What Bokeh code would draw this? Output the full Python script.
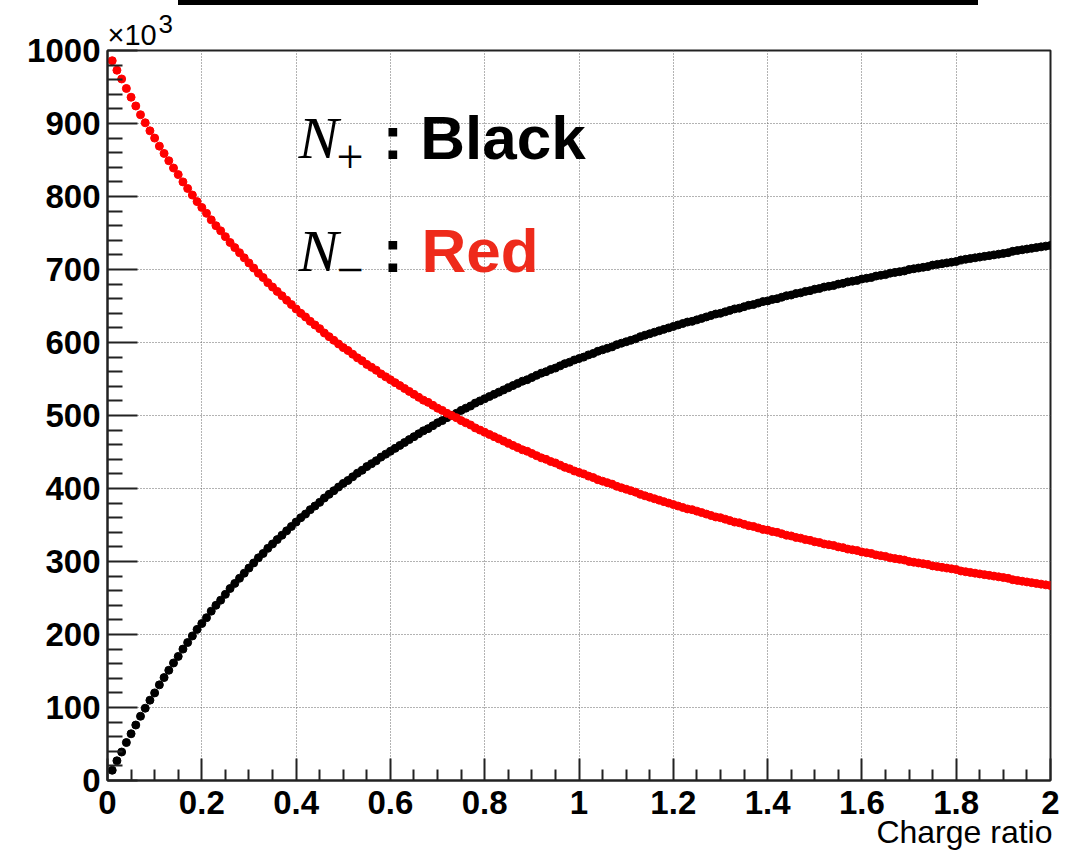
from bokeh.plotting import figure
from bokeh.layouts import column
from bokeh.models import ColumnDataSource, FixedTicker, Label, Title, Div
from bokeh.embed import file_html
from bokeh.resources import INLINE

# Charge ratio scanned in steps of 0.01 from 0.01 to 2.00
ratio = [round(0.01 * (i + 1), 2) for i in range(200)]

# N+ counts (units of 10^3)
n_plus = [
    14, 27, 39, 52, 64, 76, 88, 99, 110, 120,
    131, 141, 151, 161, 170, 180, 189, 198, 207, 215,
    223, 232, 240, 247, 255, 263, 270, 277, 284, 291,
    298, 305, 311, 318, 324, 330, 336, 342, 348, 354,
    360, 365, 371, 376, 381, 387, 392, 397, 402, 407,
    411, 416, 421, 425, 430, 434, 438, 443, 447, 451,
    455, 459, 463, 467, 471, 475, 479, 482, 486, 490,
    493, 497, 500, 503, 507, 510, 513, 517, 520, 523,
    526, 529, 532, 535, 538, 541, 544, 547, 549, 552,
    555, 558, 560, 563, 565, 568, 571, 573, 576, 578,
    580, 583, 585, 588, 590, 592, 594, 597, 599, 601,
    603, 605, 608, 610, 612, 614, 616, 618, 620, 622,
    624, 626, 628, 629, 631, 633, 635, 637, 639, 640,
    642, 644, 646, 647, 649, 651, 652, 654, 656, 657,
    659, 660, 662, 664, 665, 667, 668, 670, 671, 673,
    674, 676, 677, 678, 680, 681, 683, 684, 685, 687,
    688, 689, 691, 692, 693, 695, 696, 697, 698, 700,
    701, 702, 703, 704, 706, 707, 708, 709, 710, 711,
    713, 714, 715, 716, 717, 718, 719, 720, 721, 722,
    723, 725, 726, 727, 728, 729, 730, 731, 732, 733,
]

# N- counts (units of 10^3)
n_minus = [
    986, 973, 961, 948, 936, 924, 912, 901, 890, 880,
    869, 859, 849, 839, 830, 820, 811, 802, 793, 785,
    777, 768, 760, 753, 745, 737, 730, 723, 716, 709,
    702, 695, 689, 682, 676, 670, 664, 658, 652, 646,
    640, 635, 629, 624, 619, 613, 608, 603, 598, 593,
    589, 584, 579, 575, 570, 566, 562, 557, 553, 549,
    545, 541, 537, 533, 529, 525, 521, 518, 514, 510,
    507, 503, 500, 497, 493, 490, 487, 483, 480, 477,
    474, 471, 468, 465, 462, 459, 456, 453, 451, 448,
    445, 442, 440, 437, 435, 432, 429, 427, 424, 422,
    420, 417, 415, 412, 410, 408, 406, 403, 401, 399,
    397, 395, 392, 390, 388, 386, 384, 382, 380, 378,
    376, 374, 372, 371, 369, 367, 365, 363, 361, 360,
    358, 356, 354, 353, 351, 349, 348, 346, 344, 343,
    341, 340, 338, 336, 335, 333, 332, 330, 329, 327,
    326, 324, 323, 322, 320, 319, 317, 316, 315, 313,
    312, 311, 309, 308, 307, 305, 304, 303, 302, 300,
    299, 298, 297, 296, 294, 293, 292, 291, 290, 289,
    287, 286, 285, 284, 283, 282, 281, 280, 279, 278,
    277, 275, 274, 273, 272, 271, 270, 269, 268, 267,
]

x_ticks = [0.0, 0.2, 0.4, 0.6, 0.8, 1.0, 1.2, 1.4, 1.6, 1.8, 2.0]
x_tick_labels = ["0", "0.2", "0.4", "0.6", "0.8", "1", "1.2", "1.4", "1.6", "1.8", "2"]
y_ticks = [0, 100, 200, 300, 400, 500, 600, 700, 800, 900, 1000]

x_minor = [round(0.05 * i, 2) for i in range(41) if i % 4 != 0]
y_minor = [20 * i for i in range(51) if i % 5 != 0]

SANS = "Liberation Sans"
SERIF = "Liberation Serif"

p = figure(
    width=1070, height=848,
    x_range=(0, 2), y_range=(0, 1000),
    output_backend="svg", toolbar_location=None,
    min_border_left=107, min_border_right=20,
    min_border_top=45, min_border_bottom=73,
    background_fill_color="white", border_fill_color="white",
)

p.outline_line_color = "#222222"
p.outline_line_width = 2

# Axes in ROOT style: ticks pointing into the frame
for ax in (p.xaxis, p.yaxis):
    ax.axis_line_color = "#222222"
    ax.axis_line_width = 2
    ax.major_tick_line_color = "#222222"
    ax.major_tick_line_width = 2
    ax.minor_tick_line_color = "#222222"
    ax.minor_tick_line_width = 2
    ax.major_tick_out = 0
    ax.minor_tick_out = 0
    ax.major_label_text_font = SANS
    ax.major_label_text_font_style = "bold"
    ax.major_label_text_font_size = "33px"
    ax.major_label_text_color = "black"

p.xaxis.ticker = FixedTicker(ticks=x_ticks, minor_ticks=x_minor)
p.xaxis.major_label_overrides = dict(zip(x_ticks, x_tick_labels))
p.xaxis.major_tick_in = 22
p.xaxis.minor_tick_in = 11
p.xaxis.major_label_standoff = 10

p.yaxis.ticker = FixedTicker(ticks=y_ticks, minor_ticks=y_minor)
p.yaxis.major_tick_in = 30
p.yaxis.minor_tick_in = 15
p.yaxis.major_label_standoff = 7

for g in (p.xgrid, p.ygrid):
    g.grid_line_color = "#666666"
    g.grid_line_dash = "1 2"
    g.grid_line_width = 1

src = ColumnDataSource(dict(ratio=ratio, n_plus=n_plus, n_minus=n_minus))
p.scatter("ratio", "n_plus", source=src, size=8, marker="circle",
          fill_color="black", line_color="black")
p.scatter("ratio", "n_minus", source=src, size=8, marker="circle",
          fill_color="#ff0000", line_color="#ff0000")

# x-axis title, right-aligned under the end of the axis
p.add_layout(Title(text="Charge ratio", align="right", offset=-2, standoff=-10,
                   text_font=SANS, text_font_style="normal", text_font_size="32px",
                   text_color="black"), "below")

# Exponent of the y axis: "×10" with a raised "3"
p.add_layout(Title(text="×10", align="left", standoff=0, text_font=SANS,
                   text_font_style="normal", text_font_size="29px",
                   text_color="black"), "above")
p.add_layout(Title(text="3", align="left", offset=51, standoff=-32, text_font=SANS,
                   text_font_style="normal", text_font_size="26px",
                   text_color="black"), "above")

# Legend text
def legend_label(x, y, text, font, size, color="black", style="normal", x_offset=0):
    p.add_layout(Label(x=x, y=y, x_offset=x_offset, text=text, text_font=font,
                       text_font_style=style, text_font_size=f"{size}px",
                       text_color=color, text_baseline="alphabetic"))

legend_label(0.405, 880, "N", SERIF, 60, style="italic")
legend_label(0.405, 854, "+", SERIF, 48, x_offset=38)
legend_label(0.583, 881, ": Black", SANS, 62, style="bold")

legend_label(0.405, 725, "N", SERIF, 60, style="italic")
legend_label(0.405, 700, "−", SERIF, 48, x_offset=38)
legend_label(0.583, 726, ":", SANS, 62, style="bold")
legend_label(0.666, 726, "Red", SANS, 62, color="#ee2a1b", style="bold")

# Bottom edge of the title box above the plot
title_edge = Div(text="", width=800, height=5, margin=(0, 0, 0, 178),
                 styles={"background-color": "black"})

layout = column(title_edge, p, spacing=0)
open("out.html", "w").write(file_html(layout, INLINE))
